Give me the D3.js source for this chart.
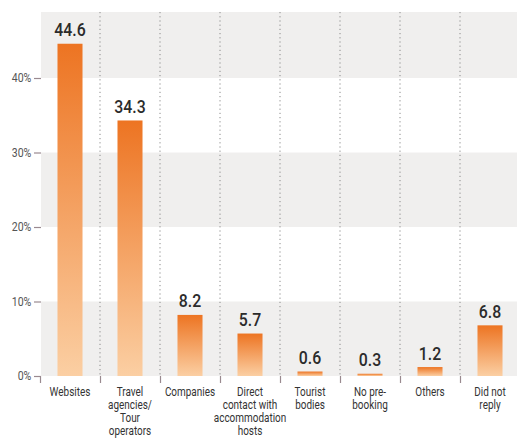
<html>
<head>
<style>
  body { margin: 0; background: #fff; }
  svg text { font-family: Roboto, "DejaVu Sans Condensed", sans-serif; }
  .band { fill: #f0efee; }
  .sep { stroke: #8a8a8a; stroke-width: 1; stroke-dasharray: 1.2,3; }
  .xtick { stroke: #9a8a90; stroke-width: 1.2; }
  .val { font-weight: 500; fill: #2b2b2b; font-size: 18px; }
  .cat { fill: #333; font-size: 12px; }
</style>
</head>
<body>
<svg id="chart" width="517" height="439"></svg>
<script src="https://cdn.jsdelivr.net/npm/d3@7"></script>
<script>
const categories = ["Websites", "Travel agencies/ Tour operators", "Companies",
  "Direct contact with accommodation hosts", "Tourist bodies", "No pre-booking", "Others", "Did not reply"]
const catLines = [["Websites"], ["Travel", "agencies/", "Tour", "operators"], ["Companies"],
  ["Direct", "contact with", "accommodation", "hosts"], ["Tourist", "bodies"], ["No pre-", "booking"],
  ["Others"], ["Did not", "reply"]]
const values = [44.6, 34.3, 8.2, 5.7, 0.6, 0.3, 1.2, 6.8]
const yTicks = [0, 10, 20, 30, 40]

let svg = d3.select("#chart")
let plotLeft = 41, plotRight = 517, plotTop = 12, plotBottom = 376
let squeeze = 0.83   // narrow the type, the original uses a condensed face

let x = d3.scaleBand().domain(categories).range([40, 520]).paddingInner(0.583).paddingOuter(0.2915)
let y = d3.scaleLinear().domain([0, 48.86]).range([plotBottom, plotTop])

// gradient for bars: dark orange top -> light peach bottom
let grad = svg.append("defs").append("linearGradient")
  .attr("id", "barGrad").attr("x1", 0).attr("y1", 0).attr("x2", 0).attr("y2", 1)
grad.append("stop").attr("offset", "0%").attr("stop-color", "#ed7422")
grad.append("stop").attr("offset", "100%").attr("stop-color", "#fbcfa3")

// alternating grey bands
let bands = [[0, 10], [20, 30], [40, 48.86]]
svg.selectAll(".band").data(bands).enter().append("rect")
  .attr("class", "band")
  .attr("x", plotLeft).attr("width", plotRight - plotLeft)
  .attr("y", d => y(d[1])).attr("height", d => y(d[0]) - y(d[1]))

// dotted separators between categories
let step = x.step()
let seps = categories.slice(1).map(c => x(c) - x.paddingInner() * step / 2)
svg.selectAll(".sep").data(seps).enter().append("line")
  .attr("class", "sep")
  .attr("x1", d => d).attr("x2", d => d)
  .attr("y1", plotTop).attr("y2", plotBottom)

// small ticks under the baseline
let ticksX = [40].concat(seps)
svg.selectAll(".xtick").data(ticksX).enter().append("line")
  .attr("class", "xtick")
  .attr("x1", d => d + 0.5).attr("x2", d => d + 0.5)
  .attr("y1", plotBottom).attr("y2", plotBottom + 7)

// y axis
let yAxis = svg.append("g")
  .attr("transform", "translate(" + plotLeft + ",0)")
  .call(d3.axisLeft(y).tickValues(yTicks).tickSize(7).tickPadding(4).tickFormat(d => d + "%"))
yAxis.select(".domain").remove()
yAxis.selectAll(".tick line").attr("stroke", "#9a8a90").attr("stroke-width", 1.2)
yAxis.selectAll(".tick text").attr("fill", "#555").style("font-size", "12px")
  .attr("transform", "scale(0.88,1)")

// bars
svg.selectAll(".bar").data(values).enter().append("rect")
  .attr("class", "bar")
  .attr("x", (d, i) => x(categories[i]))
  .attr("width", x.bandwidth())
  .attr("y", d => y(d))
  .attr("height", d => plotBottom - y(d))
  .attr("fill", "url(#barGrad)")

// value labels
svg.selectAll(".val").data(values).enter().append("text")
  .attr("class", "val")
  .attr("text-anchor", "middle")
  .attr("transform", (d, i) => "translate(" + (x(categories[i]) + x.bandwidth() / 2) + "," + (y(d) - 7.5) + ") scale(0.88,1)")
  .text(d => d.toFixed(1))

// category labels
let cats = svg.selectAll(".cat").data(catLines).enter().append("text")
  .attr("class", "cat")
  .attr("text-anchor", "middle")
  .attr("transform", (d, i) => "translate(" + (x(categories[i]) + x.bandwidth() / 2) + ",396) scale(" + squeeze + ",1)")
cats.selectAll("tspan").data(d => d).enter().append("tspan")
  .attr("x", 0).attr("y", (d, i) => i * 13)
  .text(d => d)
</script>
</body>
</html>
